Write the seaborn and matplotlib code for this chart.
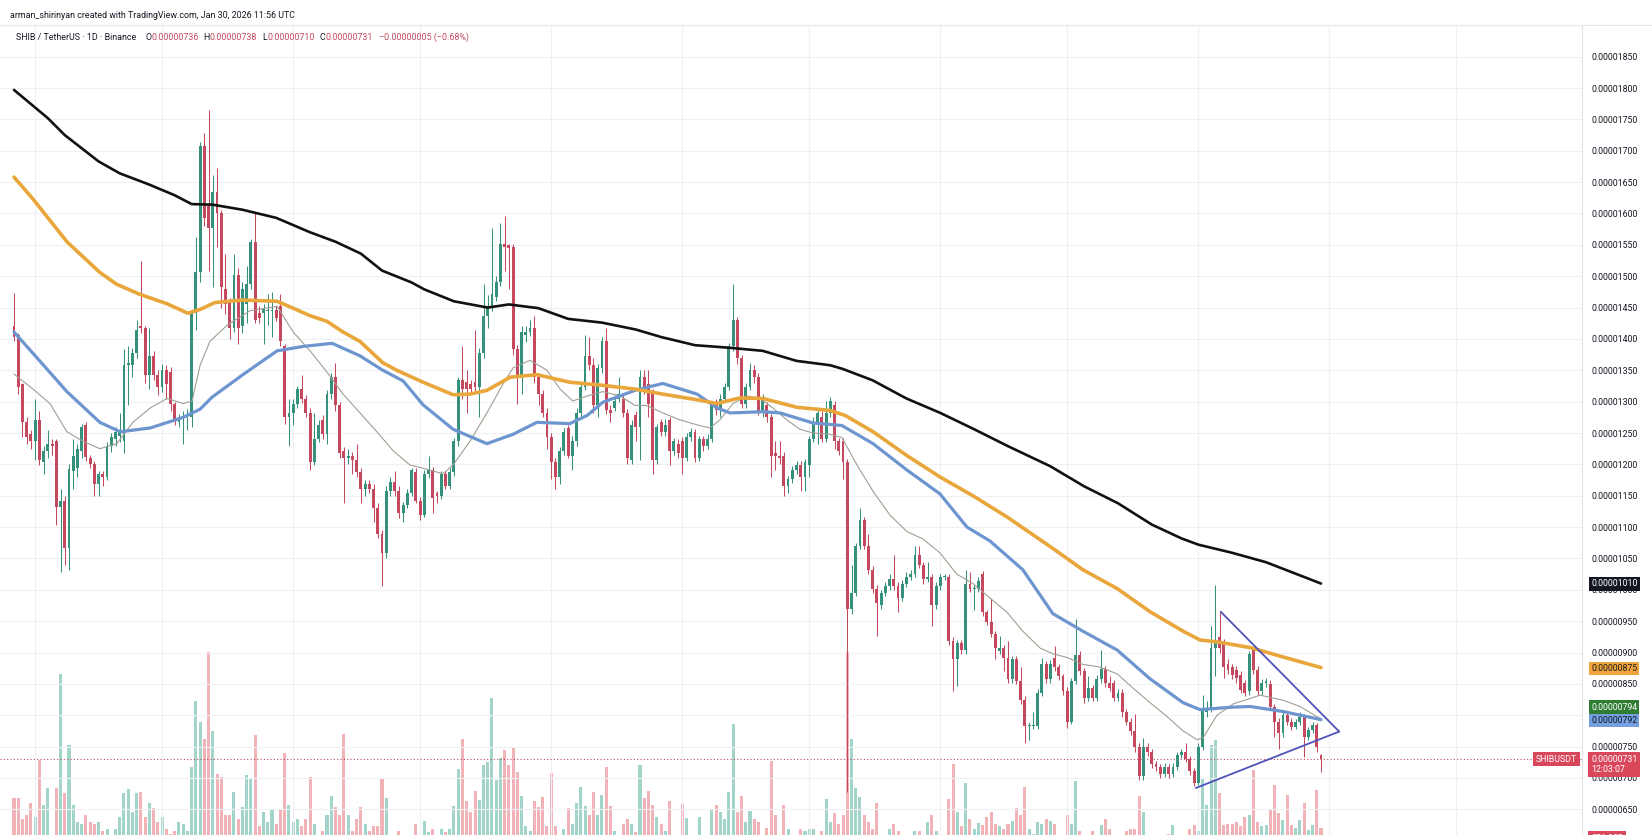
import numpy as np
import pandas as pd
import matplotlib
matplotlib.use("Agg")
import matplotlib.pyplot as plt
import seaborn as sns

sns.set_theme(style="white")
plt.rcParams['font.family'] = ['Roboto', 'DejaVu Sans']

# prices are in units of 1e-8 USDT (731 -> 0.00000731), one candle per day
opens = [1421, 1407, 1328, 1267, 1248, 1237, 1271, 1203, 1222, 1233,
         1237, 1132, 1142, 1066, 1190, 1195, 1222, 1262, 1210, 1200,
         1168, 1184, 1180, 1229, 1240, 1245, 1237, 1358, 1358, 1377,
         1420, 1417, 1343, 1373, 1343, 1324, 1350, 1347, 1297, 1267,
         1275, 1277, 1275, 1441, 1506, 1708, 1612, 1577, 1634, 1600,
         1479, 1460, 1418, 1502, 1420, 1456, 1487, 1555, 1441, 1441,
         1445, 1445, 1446, 1452, 1388, 1275, 1282, 1297, 1320, 1305,
         1282, 1203, 1241, 1271, 1248, 1312, 1339, 1294, 1222, 1210,
         1214, 1207, 1188, 1161, 1169, 1161, 1131, 1089, 1059, 1157,
         1172, 1157, 1123, 1135, 1154, 1188, 1142, 1119, 1184, 1191,
         1154, 1150, 1184, 1165, 1188, 1237, 1335, 1331, 1328, 1331,
         1324, 1377, 1437, 1452, 1467, 1490, 1551, 1550, 1547, 1384,
         1343, 1407, 1411, 1418, 1339, 1312, 1282, 1244, 1203, 1180,
         1222, 1258, 1214, 1237, 1282, 1324, 1373, 1358, 1294, 1354,
         1396, 1286, 1290, 1305, 1305, 1282, 1207, 1278, 1260, 1339,
         1328, 1316, 1207, 1267, 1252, 1271, 1222, 1233, 1237, 1210,
         1244, 1252, 1210, 1241, 1230, 1241, 1294, 1286, 1305, 1324,
         1388, 1430, 1369, 1297, 1324, 1350, 1339, 1282, 1294, 1275,
         1218, 1214, 1214, 1165, 1176, 1191, 1199, 1180, 1199, 1241,
         1267, 1275, 1240, 1282, 1294, 1237, 1237, 1203, 970, 995,
         1070, 1112, 1070, 1032, 1002, 976, 995, 1006, 1017, 1006,
         987, 1010, 1021, 1025, 1055, 1040, 1017, 1021, 976, 1006,
         1021, 1021, 919, 889, 915, 904, 1010, 1002, 1002, 1025,
         964, 949, 930, 902, 908, 892, 858, 889, 855, 824,
         783, 783, 783, 836, 881, 858, 892, 877, 862, 839,
         790, 855, 896, 870, 828, 843, 828, 858, 874, 851,
         851, 828, 836, 805, 790, 775, 749, 703, 749, 741,
         722, 718, 707, 718, 707, 718, 737, 741, 730, 711,
         692, 749, 805, 810, 907, 925, 917, 882, 877, 872,
         864, 851, 838, 904, 872, 838, 852, 850, 813, 790,
         771, 800, 790, 782, 789, 798, 765, 777, 784, 736]

highs = [1473, 1410, 1330, 1275, 1255, 1305, 1285, 1230, 1255, 1240,
         1240, 1160, 1150, 1200, 1240, 1232, 1265, 1268, 1215, 1205,
         1190, 1190, 1235, 1250, 1260, 1282, 1384, 1388, 1385, 1430,
         1525, 1420, 1418, 1380, 1350, 1360, 1358, 1355, 1300, 1280,
         1285, 1288, 1445, 1562, 1714, 1729, 1765, 1661, 1672, 1605,
         1536, 1465, 1536, 1513, 1490, 1517, 1560, 1600, 1452, 1456,
         1471, 1475, 1452, 1471, 1392, 1305, 1305, 1325, 1343, 1310,
         1290, 1282, 1270, 1278, 1318, 1345, 1362, 1300, 1228, 1225,
         1220, 1233, 1195, 1175, 1175, 1168, 1138, 1095, 1165, 1180,
         1190, 1165, 1140, 1160, 1195, 1195, 1148, 1191, 1214, 1196,
         1158, 1190, 1190, 1195, 1242, 1340, 1388, 1350, 1335, 1415,
         1385, 1487, 1470, 1577, 1500, 1585, 1596, 1552, 1552, 1390,
         1420, 1420, 1430, 1437, 1345, 1318, 1290, 1250, 1210, 1228,
         1258, 1262, 1245, 1290, 1330, 1407, 1403, 1369, 1360, 1403,
         1418, 1295, 1310, 1339, 1310, 1288, 1270, 1285, 1350, 1350,
         1350, 1320, 1265, 1272, 1272, 1276, 1242, 1240, 1243, 1250,
         1258, 1256, 1246, 1245, 1248, 1300, 1305, 1312, 1330, 1394,
         1487, 1435, 1375, 1330, 1362, 1358, 1345, 1312, 1300, 1280,
         1237, 1237, 1220, 1182, 1197, 1205, 1205, 1208, 1246, 1275,
         1290, 1285, 1301, 1308, 1301, 1242, 1242, 1208, 1040, 1075,
         1131, 1116, 1089, 1038, 1008, 1000, 1012, 1025, 1055, 1012,
         1015, 1028, 1032, 1070, 1070, 1045, 1044, 1026, 1012, 1026,
         1026, 1025, 925, 920, 920, 1032, 1029, 1008, 1020, 1030,
         968, 987, 935, 926, 912, 919, 895, 895, 877, 830,
         790, 805, 842, 892, 886, 888, 910, 882, 866, 845,
         860, 953, 902, 875, 862, 848, 864, 904, 879, 862,
         856, 842, 842, 810, 795, 802, 755, 764, 755, 746,
         727, 722, 724, 722, 724, 742, 746, 756, 735, 716,
         755, 832, 822, 942, 1008, 965, 922, 890, 882, 878,
         870, 856, 902, 908, 878, 858, 860, 856, 818, 795,
         806, 805, 796, 794, 805, 802, 782, 790, 788, 738]

lows = [1396, 1312, 1244, 1233, 1225, 1207, 1199, 1184, 1210, 1215,
        1104, 1029, 1040, 1032, 1160, 1180, 1210, 1205, 1195, 1150,
        1150, 1165, 1175, 1220, 1230, 1235, 1218, 1294, 1340, 1370,
        1410, 1330, 1320, 1335, 1310, 1315, 1305, 1285, 1263, 1260,
        1233, 1255, 1260, 1415, 1490, 1580, 1509, 1483, 1547, 1449,
        1440, 1400, 1411, 1392, 1410, 1426, 1480, 1425, 1426, 1392,
        1422, 1403, 1428, 1388, 1265, 1229, 1263, 1290, 1298, 1275,
        1191, 1199, 1235, 1240, 1233, 1305, 1285, 1210, 1138, 1200,
        1184, 1180, 1138, 1150, 1155, 1108, 1082, 1006, 1050, 1150,
        1150, 1115, 1108, 1130, 1150, 1138, 1112, 1116, 1178, 1123,
        1138, 1145, 1160, 1160, 1182, 1230, 1305, 1282, 1312, 1315,
        1275, 1370, 1418, 1445, 1460, 1485, 1509, 1479, 1375, 1297,
        1312, 1395, 1405, 1330, 1294, 1275, 1225, 1176, 1161, 1169,
        1215, 1210, 1191, 1230, 1275, 1318, 1350, 1282, 1275, 1345,
        1280, 1267, 1285, 1300, 1275, 1200, 1200, 1237, 1207, 1312,
        1275, 1184, 1200, 1245, 1245, 1199, 1215, 1210, 1184, 1205,
        1238, 1203, 1205, 1222, 1225, 1235, 1278, 1275, 1300, 1318,
        1380, 1360, 1290, 1290, 1318, 1330, 1278, 1275, 1268, 1180,
        1191, 1200, 1150, 1154, 1170, 1185, 1157, 1157, 1180, 1235,
        1233, 1235, 1235, 1275, 1225, 1215, 1176, 678, 961, 990,
        1065, 1065, 1025, 995, 926, 970, 990, 1000, 1000, 964,
        982, 1005, 1015, 1020, 1035, 1010, 1012, 942, 970, 1000,
        1015, 912, 839, 847, 898, 898, 996, 968, 997, 958,
        944, 925, 889, 898, 870, 852, 851, 850, 818, 756,
        760, 778, 778, 830, 852, 852, 870, 856, 832, 780,
        786, 850, 864, 820, 822, 822, 822, 852, 845, 838,
        822, 822, 798, 784, 768, 742, 697, 697, 735, 716,
        711, 700, 702, 700, 702, 713, 732, 725, 705, 688,
        689, 744, 798, 805, 862, 900, 860, 865, 858, 852,
        835, 830, 832, 866, 832, 833, 845, 808, 766, 747,
        766, 784, 776, 778, 784, 734, 760, 772, 742, 710]

closes = [1403, 1324, 1267, 1244, 1237, 1271, 1207, 1222, 1233, 1230,
          1132, 1142, 1066, 1193, 1213, 1225, 1260, 1212, 1200, 1168,
          1185, 1180, 1229, 1244, 1252, 1252, 1358, 1362, 1377, 1415,
          1417, 1343, 1373, 1343, 1324, 1350, 1328, 1297, 1267, 1275,
          1277, 1278, 1441, 1506, 1708, 1593, 1577, 1634, 1600, 1483,
          1456, 1418, 1502, 1418, 1479, 1487, 1555, 1430, 1434, 1448,
          1445, 1446, 1434, 1396, 1275, 1282, 1297, 1320, 1305, 1282,
          1203, 1241, 1263, 1248, 1312, 1339, 1294, 1218, 1210, 1214,
          1207, 1188, 1161, 1169, 1161, 1131, 1089, 1059, 1157, 1172,
          1157, 1123, 1135, 1154, 1191, 1142, 1119, 1184, 1191, 1146,
          1150, 1184, 1165, 1188, 1237, 1335, 1320, 1320, 1320, 1324,
          1377, 1437, 1452, 1471, 1490, 1551, 1547, 1545, 1384, 1343,
          1411, 1411, 1418, 1339, 1312, 1282, 1244, 1203, 1180, 1222,
          1252, 1214, 1237, 1282, 1324, 1373, 1358, 1294, 1354, 1396,
          1286, 1282, 1301, 1312, 1282, 1210, 1263, 1260, 1339, 1320,
          1297, 1207, 1260, 1252, 1263, 1222, 1237, 1218, 1210, 1244,
          1252, 1210, 1241, 1230, 1241, 1294, 1286, 1305, 1324, 1388,
          1430, 1369, 1297, 1324, 1350, 1339, 1282, 1305, 1275, 1214,
          1214, 1210, 1165, 1176, 1191, 1199, 1180, 1203, 1241, 1267,
          1282, 1240, 1282, 1301, 1237, 1222, 1203, 970, 995, 1070,
          1112, 1070, 1032, 1002, 979, 995, 1006, 1017, 1006, 987,
          1010, 1021, 1025, 1055, 1040, 1017, 1021, 976, 1006, 1021,
          1022, 919, 889, 915, 904, 1010, 1002, 1003, 1014, 964,
          949, 930, 908, 908, 892, 858, 889, 855, 824, 783,
          784, 785, 836, 881, 858, 881, 877, 862, 839, 790,
          855, 896, 870, 828, 843, 828, 858, 874, 851, 843,
          828, 836, 805, 790, 775, 749, 703, 749, 741, 722,
          718, 707, 718, 707, 718, 737, 741, 730, 711, 692,
          749, 809, 810, 907, 918, 907, 877, 872, 864, 859,
          840, 835, 898, 872, 838, 852, 855, 813, 790, 771,
          800, 790, 782, 789, 798, 765, 777, 784, 750, 731]

# daily volume, billions of SHIB
volumes = [2090, 2090, 1230, 1420, 1900, 1330, 3610, 1800, 2470, 570,
           2470, 7030, 2280, 4220, 1800, 1140, 1050, 1420, 1140, 1050,
           1140, 760, 850, 470, 850, 1330, 2280, 2430, 1520, 2280,
           2320, 1330, 1900, 1670, 1140, 1330, 850, 660, 760, 1140,
           1050, 760, 3320, 5980, 5130, 4460, 7920, 4750, 3040, 2940,
           1420, 1420, 2320, 1230, 1710, 3000, 2850, 4600, 950, 1520,
           1140, 1610, 1050, 1610, 3890, 1800, 1140, 1230, 950, 1230,
           2940, 1050, 470, 760, 1420, 2180, 1710, 1420, 4650, 1420,
           760, 1230, 1710, 1050, 760, 950, 950, 2890, 2090, 570,
           600, 760, 470, 570, 570, 1050, 570, 1180, 720, 850,
           570, 850, 720, 850, 1750, 3230, 4460, 1960, 1520, 2380,
           2000, 3420, 3510, 6080, 2810, 3700, 3990, 3420, 4080, 3130,
           2180, 950, 760, 1960, 1710, 2130, 950, 3080, 950, 470,
           850, 1670, 1050, 1900, 2510, 1750, 1420, 2320, 1420, 2220,
           3320, 1750, 760, 570, 1050, 1230, 1050, 720, 3420, 2090,
           2380, 1800, 1330, 1050, 760, 1960, 570, 470, 1860, 1270,
           570, 470, 1330, 530, 570, 1610, 1800, 1520, 1230, 2320,
           5040, 1520, 2180, 1140, 1570, 1230, 1140, 570, 890, 3550,
           1420, 570, 1800, 850, 570, 570, 850, 760, 850, 850,
           570, 760, 2030, 1140, 1480, 1050, 1420, 7930, 4460, 2470,
           2130, 1420, 1140, 850, 1900, 570, 470, 850, 1050, 760,
           570, 470, 470, 760, 760, 570, 1140, 1420, 760, 570,
           470, 2050, 3460, 1520, 950, 2700, 1230, 850, 1100, 990,
           1330, 1520, 1050, 950, 850, 1050, 1180, 1670, 1420, 2510,
           850, 660, 1140, 1050, 1230, 1180, 1050, 570, 470, 1420,
           1050, 2750, 760, 570, 470, 760, 570, 990, 1230, 850,
           570, 470, 570, 760, 850, 850, 2180, 1520, 570, 470,
           470, 570, 470, 660, 990, 570, 530, 470, 850, 990,
           760, 2890, 1800, 4220, 4400, 2280, 990, 1050, 1050, 1140,
           950, 1330, 1420, 3200, 1140, 950, 1000, 1600, 2600, 1500,
           1200, 2200, 1000, 900, 1200, 1900, 800, 1000, 2400, 876]

# moving averages (candle index, price)
ma200_idx = [0, 8, 12, 20, 25, 32, 38, 42, 47, 54, 62, 70, 76, 82, 87, 94, 97, 104, 112, 117,
             124, 131, 139, 147, 153, 161, 169, 177, 185, 193, 196, 203, 211, 219, 227, 235,
             245, 253, 261, 269, 276, 280, 288, 296, 309]
ma200 = [1797, 1752, 1725, 1683, 1664, 1646, 1629, 1615, 1614, 1606, 1593, 1570, 1555, 1536,
         1509, 1490, 1479, 1460, 1450, 1455, 1449, 1432, 1426, 1415, 1403, 1390, 1386, 1381,
         1365, 1358, 1352, 1334, 1305, 1282, 1256, 1229, 1197, 1165, 1138, 1104, 1082, 1072,
         1059, 1044, 1010]

ma100_idx = [0, 4.5, 12.5, 20.3, 24.3, 29.8, 36.2, 41.1, 44, 47.5, 54.1, 62.2, 66, 70, 74, 77.8,
             81.8, 87.2, 90.5, 96.7, 103.8, 107.8, 111.8, 117.3, 123.6, 131.4, 139.2, 146.8,
             153.4, 161.5, 166.2, 171.6, 177.1, 185.1, 192.9, 196.5, 203.1, 211.1, 218.9,
             226.7, 234.8, 245.6, 252.7, 260.8, 268.6, 276.4, 280.4, 284.4, 292.2, 300, 309]
ma100 = [1658, 1623, 1555, 1506, 1487, 1471, 1456, 1441, 1447, 1458, 1462, 1460, 1449, 1437,
         1428, 1411, 1396, 1362, 1350, 1331, 1311, 1312, 1318, 1339, 1343, 1331, 1326, 1320,
         1312, 1303, 1297, 1306, 1305, 1291, 1286, 1278, 1252, 1214, 1180, 1150, 1116, 1066,
         1032, 1002, 965, 934, 920, 917, 908, 893, 876]

ma50_idx = [0, 4.5, 12.5, 20.3, 25.1, 32.2, 40, 44, 46.8, 54.1, 62.2, 68.3, 75.2, 81.8, 87.2,
            92, 96.7, 103.8, 111.8, 118, 123.6, 131.4, 135.5, 139.2, 146.8, 153.4, 161.5,
            166.2, 169.3, 177.1, 181.1, 188.9, 195.7, 203.1, 211.1, 218.9, 225.3, 230.7,
            238.5, 245.6, 252.7, 260.8, 268.6, 276.4, 280.4, 288.2, 292.2, 300, 309]
ma50 = [1411, 1377, 1316, 1267, 1252, 1258, 1275, 1288, 1307, 1343, 1381, 1388, 1393, 1373,
        1350, 1333, 1295, 1256, 1233, 1248, 1267, 1265, 1278, 1299, 1318, 1329, 1312, 1290,
        1282, 1284, 1282, 1266, 1262, 1233, 1191, 1153, 1100, 1078, 1032, 962, 934, 904,
        858, 820, 809, 813, 814, 806, 793]

ma20_idx = [0, 4.5, 8.5, 12.5, 16.3, 20.3, 24.3, 28.1, 32.2, 36.2, 40, 42.1, 44, 46.3, 50.4,
            55.8, 62.2, 66, 70, 74, 77.8, 81.8, 85.8, 89.6, 93.6, 97.2, 101.4, 103.8, 107.8,
            111.8, 115.6, 118, 122, 126, 129.1, 132.1, 135.5, 139.2, 143.3, 146.8, 149.6,
            153.4, 157.4, 161.5, 164.5, 166.9, 170, 173.3, 176.4, 179.4, 182.7, 185.8, 188.9,
            192.9, 195.7, 199.3, 203.1, 207.1, 211.1, 214.9, 218.9, 222.9, 226.7, 230.7,
            234.8, 238.5, 242.6, 245.6, 249, 252.7, 256.7, 260.8, 264.6, 268.6, 272.6, 276.4,
            279.7, 281.1, 284.4, 288.2, 294.6, 300, 304, 309]
ma20 = [1344, 1320, 1297, 1252, 1237, 1225, 1233, 1267, 1290, 1305, 1297, 1301, 1358, 1396,
        1422, 1445, 1452, 1411, 1381, 1347, 1312, 1282, 1252, 1222, 1199, 1193, 1185, 1199,
        1237, 1282, 1328, 1354, 1366, 1350, 1320, 1301, 1309, 1316, 1309, 1294, 1294, 1282,
        1271, 1263, 1258, 1271, 1297, 1309, 1305, 1290, 1271, 1256, 1250, 1248, 1243, 1199,
        1157, 1119, 1093, 1081, 1059, 1025, 1010, 987, 964, 934, 907, 898, 892, 881, 877,
        866, 843, 820, 798, 775, 761, 764, 800, 818, 832, 824, 814, 794]

# hand-drawn symmetrical triangle
tri_upper_idx = [285.3, 313.3]
tri_upper = [965, 774]
tri_lower_idx = [279.4, 313.3]
tri_lower = [684, 774]

month_starts = [5, 35, 66, 96, 127, 158, 188, 219, 249, 280, 311, 341]
last_price = 731

df = pd.DataFrame({'open': opens, 'high': highs, 'low': lows, 'close': closes, 'volume': volumes})
df['idx'] = np.arange(len(df))
up = df['close'] >= df['open']

W, H = 1652, 835
fig = plt.figure(figsize=(W / 100, H / 100), dpi=100)
rect = [0, 0, 1582 / W, 810 / H]

GREEN = '#35907c'
RED = '#c4495e'
VGREEN = '#a3d4c9'
VRED = '#f2b3b8'

# volume pane underneath
ax_vol = fig.add_axes(rect)
ax_vol.bar(df['idx'], df['volume'], width=0.72,
           color=np.where(up, VGREEN, VRED), linewidth=0)
ax_vol.set_ylim(600, 33000)
ax_vol.set_xlim(-3.31, 370.7)
ax_vol.axis('off')

ax = fig.add_axes(rect)
ax.patch.set_visible(False)
ax.set_xlim(-3.31, 370.7)
ax.set_ylim(609.1, 1900.5)

for p in range(650, 1901, 50):
    ax.axhline(p, color='#eef0f4', lw=0.8, zorder=0)
for m in month_starts:
    ax.axvline(m, color='#eef0f4', lw=0.8, zorder=0)

# candles
cols = np.where(up, GREEN, RED)
ax.vlines(df['idx'], df['low'], df['high'], colors=cols, lw=0.75, zorder=3)
body_lo = np.minimum(df['open'], df['close'])
body_h = np.maximum(np.abs(df['close'] - df['open']), 1.5)
ax.bar(df['idx'], body_h, bottom=body_lo, width=0.68, color=cols, linewidth=0, zorder=3)

# moving averages
line_kw = dict(estimator=None, sort=False, solid_joinstyle='round', solid_capstyle='round')
sns.lineplot(x=ma20_idx, y=ma20, ax=ax, color='#a09f92', lw=0.8, zorder=4, **line_kw)
sns.lineplot(x=ma50_idx, y=ma50, ax=ax, color='#6d95cf', lw=2.3, zorder=5, **line_kw)
sns.lineplot(x=ma100_idx, y=ma100, ax=ax, color='#e9a63a', lw=2.6, zorder=5, **line_kw)
sns.lineplot(x=ma200_idx, y=ma200, ax=ax, color='#111111', lw=1.9, zorder=5, **line_kw)

ax.plot(tri_upper_idx, tri_upper, color='#4f53b8', lw=1.3, zorder=6)
ax.plot(tri_lower_idx, tri_lower, color='#4f53b8', lw=1.3, zorder=6)

ax.axhline(last_price, color=RED, lw=0.8, ls=(0, (1, 2)), zorder=2)

# price scale on the right (0.00000800 sits under the MA tags)
ticks = [t for t in range(650, 1851, 50) if t != 800]
ax.set_yticks(ticks)
ax.set_yticklabels([f"{t / 1e8:.8f}" for t in ticks])
ax.yaxis.tick_right()
ax.tick_params(axis='y', length=0, pad=6.5, labelsize=6.3, labelcolor='#131722')
ax.set_xticks([])
for s in ['top', 'left', 'bottom']:
    ax.spines[s].set_visible(False)
ax.spines['right'].set_color('#e0e3eb')
ax.spines['right'].set_linewidth(0.8)

fig.add_artist(plt.Line2D([0, 1], [1 - 25 / H, 1 - 25 / H], color='#e6e8ee', lw=0.8))


def fy(ypx):
    return 1 - ypx / H


# value tags on the price scale
tags = [(583.9, '0.00001010', '#131722', 'white'),
        (668.7, '0.00000875', '#efa43d', '#1c1c1c'),
        (707.0, '0.00000794', '#2e7d32', 'white'),
        (720.6, '0.00000792', '#74a0e0', '#131722')]
for ypx, txt, bg, fg in tags:
    fig.text(1591 / W, fy(ypx), txt, fontsize=6.3, color=fg, va='center', ha='left',
             bbox=dict(boxstyle='square,pad=0.26', fc=bg, ec='none'))
fig.text(1591 / W, fy(764.5), '0.00000731\n12:03:07', fontsize=6.3, color='white',
         va='center', ha='left', linespacing=1.15,
         bbox=dict(boxstyle='square,pad=0.3', fc='#d9485a', ec='none'))
fig.text(1577 / W, fy(759), 'SHIBUSDT', fontsize=6.3, color='white', va='center', ha='right',
         bbox=dict(boxstyle='square,pad=0.3', fc='#d9485a', ec='none'))
fig.text(1591 / W, fy(838), '876.35B', fontsize=6.3, color='white', va='center', ha='left',
         bbox=dict(boxstyle='square,pad=0.3', fc='#d9485a', ec='none'))

# header
fig.text(10 / W, fy(15.7), 'arman_shirinyan created with TradingView.com, Jan 30, 2026 11:56 UTC',
         fontsize=6.4, color='#131722', va='center', ha='left')

renderer = fig.canvas.get_renderer()
parts = [('SHIB / TetherUS · 1D · Binance', '#131722', 0),
         ('O', '#131722', 9), ('0.00000736', RED, 0),
         ('H', '#131722', 5), ('0.00000738', RED, 0),
         ('L', '#131722', 5), ('0.00000710', RED, 0),
         ('C', '#131722', 5), ('0.00000731', RED, 0),
         ('−0.00000005 (−0.68%)', RED, 6)]
xpx = 16
for txt, c, gap in parts:
    xpx += gap
    t = fig.text(xpx / W, fy(37.7), txt, fontsize=6.4, color=c, va='center', ha='left')
    xpx += t.get_window_extent(renderer).width

fig.savefig('out.png', dpi=100)
